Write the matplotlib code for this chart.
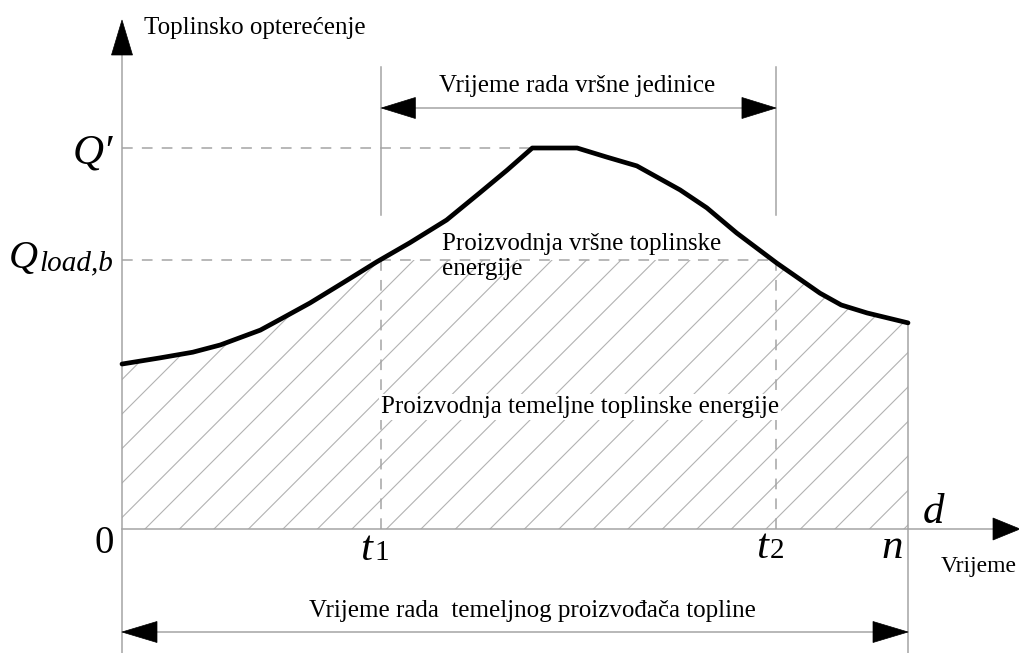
import numpy as np
import matplotlib
matplotlib.use("Agg")
import matplotlib.pyplot as plt
from matplotlib.patches import Polygon

# ---------------- data ----------------
days = [0, 4.8, 9.0, 12.5, 17.6, 20.1, 23.9, 28.1, 32.4, 36.6, 41.3, 45.5, 49.0,
        52.2, 57.9, 61.7, 65.5, 71.0, 74.4, 78.2, 83.3, 88.8, 91.5, 94.8, 100]
load = [43.3, 44.9, 46.4, 48.3, 52.2, 55.0, 59.3, 64.6, 70.1, 75.1, 81.1, 88.2, 94.2,
        100, 100, 97.6, 95.3, 89.0, 84.3, 77.7, 69.8, 61.9, 58.8, 56.7, 54.1]
T1 = 33.0
T2 = 83.2
N_END = 100
Q_PEAK = 100
Q_LOAD_B = 70.6

# ---------------- layout (pixel mapping) ----------------
W, H = 1020, 653
X0_PX, XN_PX = 122, 908
Y0_PX, YQ_PX = 529, 148
SX = (XN_PX - X0_PX) / N_END      # px per x unit
SY = (Y0_PX - YQ_PX) / Q_PEAK     # px per y unit

def px2x(px):
    return (px - X0_PX) / SX

def px2y(py):
    return (Y0_PX - py) / SY

fig = plt.figure(figsize=(W / 100, H / 100), dpi=100)
ax = fig.add_axes([0, 0, 1, 1])
ax.set_xlim(px2x(0), px2x(W))
ax.set_ylim(px2y(H), px2y(0))
ax.axis("off")

GRAY = "#a4a4a4"
SERIF = ["Liberation Serif", "DejaVu Serif"]

def head(tip_x, tip_y, direction, length_px, width_px):
    """Filled triangular arrowhead; direction one of 'up','right','left'."""
    if direction == "up":
        pts = [(tip_x, tip_y),
               (tip_x - width_px / 2 / SX, tip_y - length_px / SY),
               (tip_x + width_px / 2 / SX, tip_y - length_px / SY)]
    elif direction == "right":
        pts = [(tip_x, tip_y),
               (tip_x - length_px / SX, tip_y + width_px / 2 / SY),
               (tip_x - length_px / SX, tip_y - width_px / 2 / SY)]
    else:
        pts = [(tip_x, tip_y),
               (tip_x + length_px / SX, tip_y + width_px / 2 / SY),
               (tip_x + length_px / SX, tip_y - width_px / 2 / SY)]
    ax.add_patch(Polygon(pts, closed=True, facecolor="black", edgecolor="black",
                         lw=0.5, zorder=6))

# ---------------- hatched base-load region ----------------
xs = np.linspace(0, N_END, 400)
curve_dense = np.interp(xs, days, load)
base_top = np.minimum(curve_dense, Q_LOAD_B)
poly_pts = [(0, 0)] + list(zip(xs, base_top)) + [(N_END, 0)]
clip_poly = Polygon(poly_pts, closed=True, facecolor="none", edgecolor="none")
ax.add_patch(clip_poly)

slope = SX / SY   # 45 degrees in pixel space
spacing = 34.5 / SX
start = px2x(145)
for c in np.arange(start - 60 * spacing, N_END + spacing, spacing):
    ln, = ax.plot([c, c + 150 / slope], [0, 150], color="#b2b2b2", lw=0.8, zorder=1)
    ln.set_clip_path(clip_poly)

# ---------------- axes lines ----------------
LW = 1.1
ytop_tip = px2y(20)
ax.plot([0, 0], [px2y(H), px2y(50)], color=GRAY, lw=LW, zorder=2)
head(0, ytop_tip, "up", 35, 21)
ax.plot([0, px2x(995)], [0, 0], color=GRAY, lw=LW, zorder=2)
head(px2x(W), 0, "right", 27, 22)

# n line
ax.plot([N_END, N_END], [px2y(H), load[-1]], color=GRAY, lw=LW, zorder=2)

# t1, t2 lines
for t in (T1, T2):
    ax.plot([t, t], [px2y(67), px2y(215)], color=GRAY, lw=LW, zorder=2)
    ax.plot([t, t], [0, Q_LOAD_B], color=GRAY, lw=LW, ls=(0, (7, 6)), zorder=2)

# horizontal dashed reference lines
peak_start = days[load.index(Q_PEAK)]
ax.plot([0, peak_start], [Q_PEAK, Q_PEAK], color=GRAY, lw=LW, ls=(0, (7, 6)), zorder=2)
ax.plot([0, T2], [Q_LOAD_B, Q_LOAD_B], color=GRAY, lw=LW, ls=(0, (7, 6)), zorder=2)

# ---------------- load curve ----------------
ax.plot(days, load, color="black", lw=3.4, solid_capstyle="round",
        solid_joinstyle="round", zorder=5)

# ---------------- dimension arrows ----------------
y_top_arrow = px2y(108)
ax.plot([T1, T2], [y_top_arrow, y_top_arrow], color=GRAY, lw=LW, zorder=2)
head(T1, y_top_arrow, "left", 34, 21)
head(T2, y_top_arrow, "right", 34, 21)

y_bot_arrow = px2y(632)
ax.plot([0, N_END], [y_bot_arrow, y_bot_arrow], color=GRAY, lw=LW, zorder=2)
head(0, y_bot_arrow, "left", 35, 21)
head(N_END, y_bot_arrow, "right", 35, 21)

# ---------------- texts ----------------
fs = 18
ax.text(px2x(144), px2y(34), "Toplinsko opterećenje", family=SERIF, fontsize=fs,
        ha="left", va="baseline")
ax.text(px2x(577), px2y(92), "Vrijeme rada vršne jedinice", family=SERIF,
        fontsize=fs, ha="center", va="baseline")
ax.text(px2x(442), px2y(250), "Proizvodnja vršne toplinske", family=SERIF,
        fontsize=fs, ha="left", va="baseline", zorder=4)
ax.text(px2x(442), px2y(275), "energije", family=SERIF,
        fontsize=fs, ha="left", va="baseline", zorder=4)
ax.text(px2x(580), px2y(413), "Proizvodnja temeljne toplinske energije",
        family=SERIF, fontsize=fs, ha="center", va="baseline", zorder=4,
        bbox=dict(facecolor="white", edgecolor="none", pad=1.5))
ax.text(px2x(532), px2y(617),
        "Vrijeme rada  temeljnog proizvođača topline", family=SERIF,
        fontsize=fs, ha="center", va="baseline")
ax.text(px2x(1017), px2y(572), "Vrijeme", family=SERIF, fontsize=17,
        ha="right", va="baseline")

# math-like labels
big = 31
ax.text(px2x(113), px2y(163), "Q′", family=SERIF, style="italic", fontsize=big,
        ha="right", va="baseline")
ax.text(px2x(9), px2y(268), "Q", family=SERIF, style="italic", fontsize=29,
        ha="left", va="baseline")
ax.text(px2x(39), px2y(270), "load,b", family=SERIF, style="italic", fontsize=21,
        ha="left", va="baseline")
ax.text(px2x(114), px2y(553), "0", family=SERIF, fontsize=28,
        ha="right", va="baseline")
ax.text(px2x(360), px2y(560), "t", family=SERIF, style="italic", fontsize=big,
        ha="left", va="baseline")
ax.text(px2x(374), px2y(560), "1", family=SERIF, fontsize=21,
        ha="left", va="baseline")
ax.text(px2x(756), px2y(558), "t", family=SERIF, style="italic", fontsize=big,
        ha="left", va="baseline")
ax.text(px2x(770), px2y(558), "2", family=SERIF, fontsize=21,
        ha="left", va="baseline")
ax.text(px2x(903), px2y(558), "n", family=SERIF, style="italic", fontsize=big,
        ha="right", va="baseline")
ax.text(px2x(923), px2y(523), "d", family=SERIF, style="italic", fontsize=big,
        ha="left", va="baseline")

fig.savefig("out.png", dpi=100, facecolor="white")
